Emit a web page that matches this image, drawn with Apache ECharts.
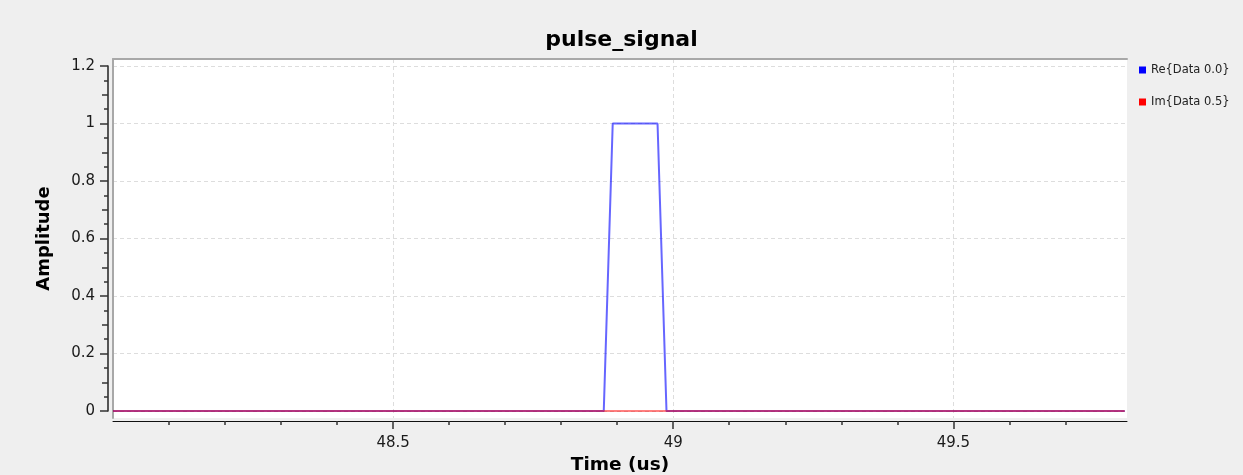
<!DOCTYPE html>
<html>
<head>
<meta charset="utf-8">
<title>pulse_signal</title>
<script src="https://cdn.jsdelivr.net/npm/echarts@6/dist/echarts.min.js"></script>
<style>
  html, body { margin: 0; padding: 0; background: #efefef; }
  #chart { width: 1243px; height: 475px; }
</style>
</head>
<body>
<div id="chart"></div>
<script>
// Sample breakpoints of the pulse (time in microseconds)
const times = [48.0, 48.876, 48.892, 48.972, 48.988, 49.806];
const reValues = [0, 0, 1, 1, 0, 0];
const imValues = [0, 0, 0, 0, 0, 0];

const seriesNames = ['Re{Data 0.0}', 'Im{Data 0.5}'];

// Axis ticks and labels
const xMajorTicks = [48.5, 49, 49.5];
const xMinorTicks = [48.1, 48.2, 48.3, 48.4, 48.6, 48.7, 48.8, 48.9, 49.1, 49.2, 49.3, 49.4, 49.6, 49.7];
const yMediumTicks = [0.1, 0.3, 0.5, 0.7, 0.9, 1.1];
const yMinorTicks = [0.05, 0.15, 0.25, 0.35, 0.45, 0.55, 0.65, 0.75, 0.85, 0.95, 1.05, 1.15];

const xRange = [48.0, 49.81];
const yRange = [-0.024, 1.224];

const toPairs = (xs, ys) => xs.map((x, i) => [x, ys[i]]);

const FONT = 'DejaVu Sans';
const gridLine = { show: true, lineStyle: { color: '#dddddd', type: [4, 3], width: 1 } };

const chart = echarts.init(document.getElementById('chart'), null, { renderer: 'canvas' });

chart.setOption({
  backgroundColor: '#efefef',
  animation: false,
  title: {
    text: 'pulse_signal',
    left: 'center',
    top: 24,
    textStyle: { fontFamily: FONT, fontSize: 22, fontWeight: 'bold', color: '#000' }
  },
  legend: {
    orient: 'vertical',
    left: 1139,
    top: 64,
    padding: 0,
    itemWidth: 7,
    itemHeight: 7,
    itemGap: 20,
    icon: 'rect',
    textStyle: { fontFamily: FONT, fontSize: 11.5, color: '#222' },
    data: [
      { name: seriesNames[0], itemStyle: { color: '#0000ff', opacity: 1 } },
      { name: seriesNames[1], itemStyle: { color: '#ff0000', opacity: 1 } }
    ]
  },
  grid: [
    // plotting canvas
    { left: 113, right: 116, top: 59, bottom: 57, show: true, backgroundColor: '#ffffff', borderWidth: 0,
      containLabel: false, outerBoundsMode: 'none' },
    // amplitude scale, spanning 0 .. 1.2
    { left: 113, right: 116, top: 66, bottom: 64, show: false,
      containLabel: false, outerBoundsMode: 'none' }
  ],
  xAxis: [
    {
      gridIndex: 0, type: 'value', position: 'bottom', offset: 3,
      min: xRange[0], max: xRange[1],
      name: 'Time (us)', nameLocation: 'middle', nameGap: 34,
      nameTextStyle: { fontFamily: FONT, fontSize: 18.5, fontWeight: 'bold', color: '#000' },
      axisLine: { show: true, onZero: false, lineStyle: { color: '#111', width: 1 } },
      axisTick: { show: true, customValues: xMajorTicks, length: 8, lineStyle: { color: '#333', width: 1.5 } },
      axisLabel: { show: true, customValues: xMajorTicks, margin: 15, fontFamily: FONT, fontSize: 15, color: '#1a1a1a' },
      splitLine: gridLine
    },
    {
      gridIndex: 0, type: 'value', position: 'bottom', offset: 3,
      min: xRange[0], max: xRange[1],
      axisLine: { show: false, onZero: false },
      axisTick: { show: true, customValues: xMinorTicks, length: 4, lineStyle: { color: '#333', width: 1.5 } },
      axisLabel: { show: false },
      splitLine: { show: false }
    },
    {
      // canvas top frame
      gridIndex: 0, type: 'value', position: 'top',
      min: xRange[0], max: xRange[1],
      axisLine: { show: true, onZero: false, lineStyle: { color: '#a8a8a8', width: 2 } },
      axisTick: { show: false }, axisLabel: { show: false }, splitLine: { show: false }
    },
    {
      gridIndex: 1, type: 'value', show: false, min: xRange[0], max: xRange[1],
      axisLine: { onZero: false }
    }
  ],
  yAxis: [
    {
      // data axis of the canvas, draws the left frame
      gridIndex: 0, type: 'value', position: 'left',
      min: yRange[0], max: yRange[1],
      axisLine: { show: true, onZero: false, lineStyle: { color: '#a8a8a8', width: 2 } },
      axisTick: { show: false }, axisLabel: { show: false }, splitLine: { show: false }
    },
    {
      gridIndex: 1, type: 'value', position: 'left', offset: 5,
      min: 0, max: 1.2, interval: 0.2,
      name: 'Amplitude', nameLocation: 'middle', nameGap: 55,
      nameTextStyle: { fontFamily: FONT, fontSize: 18, fontWeight: 'bold', color: '#000' },
      axisLine: { show: true, onZero: false, lineStyle: { color: '#222', width: 1.5 } },
      axisTick: { show: true, length: 8, lineStyle: { color: '#333', width: 1.5 } },
      axisLabel: { show: true, margin: 13, fontFamily: FONT, fontSize: 15, color: '#1a1a1a' },
      splitLine: gridLine
    },
    {
      gridIndex: 1, type: 'value', position: 'left', offset: 5,
      min: 0, max: 1.2,
      axisLine: { show: false, onZero: false },
      axisTick: { show: true, customValues: yMediumTicks, length: 6, lineStyle: { color: '#333', width: 1.5 } },
      axisLabel: { show: false }, splitLine: { show: false }
    },
    {
      gridIndex: 1, type: 'value', position: 'left', offset: 5,
      min: 0, max: 1.2,
      axisLine: { show: false, onZero: false },
      axisTick: { show: true, customValues: yMinorTicks, length: 4, lineStyle: { color: '#333', width: 1.5 } },
      axisLabel: { show: false }, splitLine: { show: false }
    }
  ],
  series: [
    {
      name: seriesNames[0], type: 'line', xAxisIndex: 0, yAxisIndex: 0,
      data: toPairs(times, reValues),
      showSymbol: false, color: '#0000ff',
      lineStyle: { color: '#0000ff', width: 2, opacity: 0.6 }
    },
    {
      name: seriesNames[1], type: 'line', xAxisIndex: 0, yAxisIndex: 0,
      data: toPairs(times, imValues),
      showSymbol: false, color: '#ff0000',
      lineStyle: { color: '#ff0000', width: 2, opacity: 0.5 }
    }
  ]
});
</script>
</body>
</html>
